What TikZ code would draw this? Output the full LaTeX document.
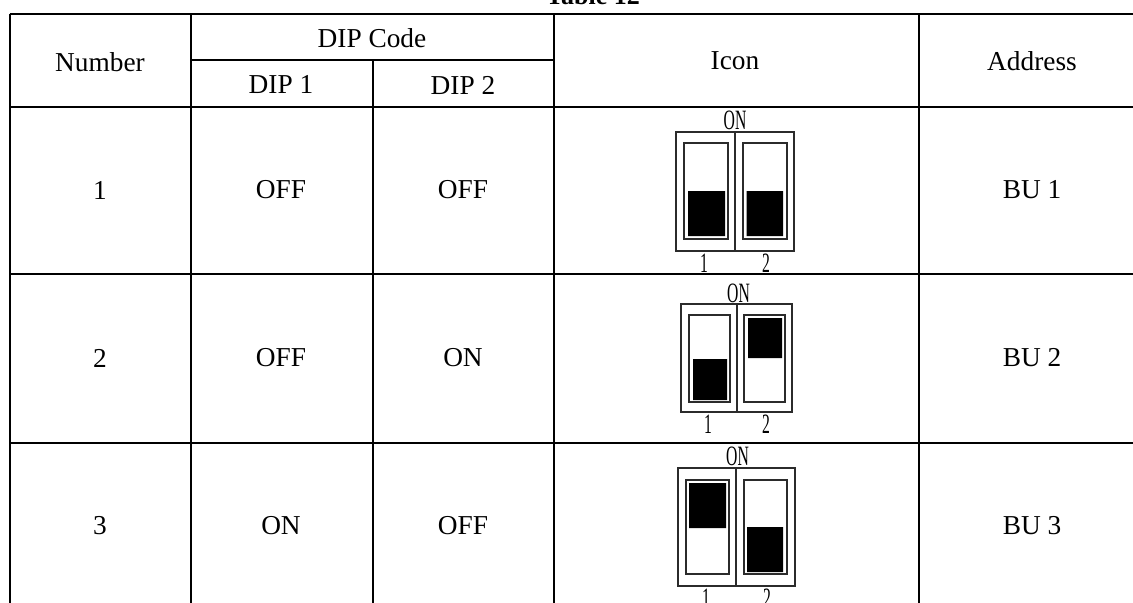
\documentclass[tikz,border=0pt]{standalone}
\usepackage{fontspec}
\setmainfont{Liberation Serif}
\definecolor{iconclr}{rgb}{0.17, 0.17, 0.17}
\tikzset{ %
  ,x=0.75pt,y=-0.75pt
  ,rule/.style={line width=1.5pt}
  ,cell/.style={font=\fontsize{20.5}{24}\selectfont, inner sep=0}
  ,titlecell/.style={font=\fontsize{19.5}{22}\selectfont\bfseries, inner sep=0}
  ,pins/.style={font=\fontsize{21}{24}\selectfont, inner sep=0, xscale=0.56}
  ,frame/.style={draw=iconclr, line width=1.3pt}
  ,knob/.style={fill=black}
}
\begin{document}
\begin{tikzpicture}
  \useasboundingbox (0,0) rectangle (1133,603);
  \fill[white] (0,0) rectangle (1133,603);
  % table title
  \begin{scope}
    \clip (0,0) rectangle (1133,603);
    \node[titlecell] (title) at (593,-4) {Table 12};
  \end{scope}
  % rules
  \foreach \lx/\ly/\lxx/\lyy in {9.5/13.5/1133/13.5, 191/60/554/60, 9.5/107/1133/107, 9.5/274/1133/274, 9.5/443/1133/443,
    9.5/13.5/9.5/603, 191/13.5/191/603, 372.5/60/372.5/603, 554/13.5/554/603, 919/13.5/919/603}
    \draw[rule] (\lx,\ly) -- (\lxx,\lyy);
  % header
  \node[cell] (number) at (100,62) {Number};
  \node[cell] (dipcode) at (372,38) {DIP Code};
  \node[cell] (dipa) at (281,85) {DIP 1};
  \node[cell] (dipb) at (463,85) {DIP 2};
  \node[cell] (icon) at (735,61) {Icon};
  \node[cell] (address) at (1032,61) {Address};
  % rows
  \foreach \ry/\rn/\ra/\rb in {190/1/OFF/OFF, 358/2/OFF/ON, 526/3/ON/OFF} {
    \node[cell] (num\rn) at (100,\ry) {\rn};
    \node[cell] (a\rn) at (281,\ry) {\ra};
    \node[cell] (b\rn) at (463,\ry) {\rb};
    \node[cell] (addr\rn) at (1032,\ry) {BU \rn};
  }
  % icons
  \draw[frame] (676,132) rectangle (794,251) (735,132) -- (735,251);
  \draw[frame] (684,143) rectangle (728,239) (743,143) rectangle (787,239);
  \fill[knob] (688,191) rectangle (725,236) (746.5,191) rectangle (783,236);
  \node[pins] (ona) at (735,120) {ON};
  \node[pins] (onea) at (704,263) {1};
  \node[pins] (twoa) at (766,263) {2};

  \draw[frame] (681,304) rectangle (792,412) (737,304) -- (737,412);
  \draw[frame] (689,315) rectangle (730,402) (744,315) rectangle (785,402);
  \fill[knob] (693,359) rectangle (727,400) (748,318) rectangle (782,358);
  \node[pins] (onb) at (738.5,293) {ON};
  \node[pins] (oneb) at (708,424) {1};
  \node[pins] (twob) at (766,424) {2};

  \draw[frame] (678,468) rectangle (795,586) (736,468) -- (736,586);
  \draw[frame] (686,480) rectangle (729,574) (744,480) rectangle (787,574);
  \fill[knob] (689,483) rectangle (726,528) (747,527) rectangle (783,572);
  \node[pins] (onc) at (737.5,456) {ON};
  \node[pins] (onec) at (706,598) {1};
  \node[pins] (twoc) at (767,598) {2};
\end{tikzpicture}
\end{document}
